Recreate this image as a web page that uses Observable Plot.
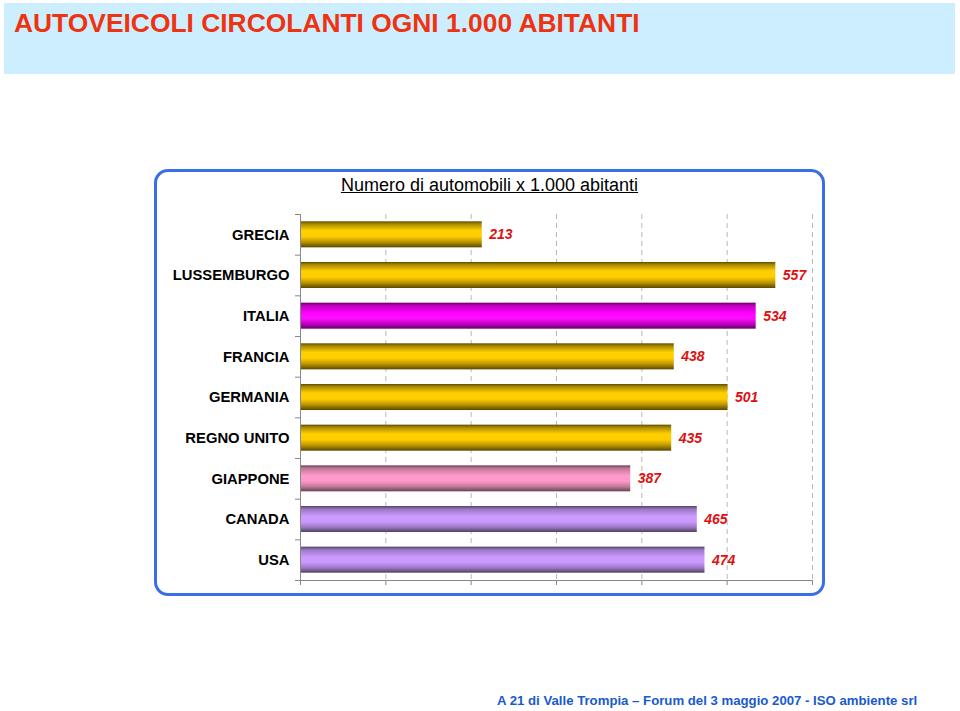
<!DOCTYPE html>
<html>
<head>
<meta charset="utf-8">
<script src="https://cdn.jsdelivr.net/npm/d3@7"></script>
<script src="https://cdn.jsdelivr.net/npm/@observablehq/plot@0.6"></script>
<style>
  body { margin:0; width:960px; height:711px; background:#fff; position:relative; overflow:hidden;
         font-family: Arial, "Liberation Sans", sans-serif; }
  #header { position:absolute; left:4px; top:3px; width:951px; height:71px; background:#cdeeff; }
  #title { position:absolute; left:10px; top:5px; font-size:26.4px; font-weight:bold; color:#ee3311; white-space:nowrap; }
  #frame { position:absolute; left:154px; top:169px; width:665px; height:421px;
           border:3px solid #3a6ee8; border-radius:14px; }
  #subtitle { position:absolute; left:154px; width:671px; top:175px; text-align:center;
              font-size:18px; text-decoration:underline; color:#000; white-space:nowrap; }
  #chart { position:absolute; left:160px; top:205px; }
  #footer { position:absolute; left:497px; top:693px; font-size:13.2px; font-weight:bold; color:#1a5acd; white-space:nowrap; }
</style>
</head>
<body>
<div id="header"><div id="title">AUTOVEICOLI CIRCOLANTI OGNI 1.000 ABITANTI</div></div>
<div id="frame"></div>
<div id="subtitle">Numero di automobili x 1.000 abitanti</div>
<div id="chart"></div>
<div id="footer">A 21 di Valle Trompia – Forum del 3 maggio 2007 - ISO ambiente srl</div>
<script>
const countries = ["GRECIA","LUSSEMBURGO","ITALIA","FRANCIA","GERMANIA","REGNO UNITO","GIAPPONE","CANADA","USA"];
const values = [213, 557, 534, 438, 501, 435, 387, 465, 474];
const barColors = ["gold","gold","magenta","gold","gold","gold","pink","lavender","lavender"];
const xTicks = [0, 100, 200, 300, 400, 500, 600];

const gradients = {
  gold:     [["0%","#5e4c00"],["10%","#a68800"],["35%","#ffd000"],["58%","#ffcc00"],["80%","#b89300"],["100%","#5a4800"]],
  magenta:  [["0%","#6a006a"],["12%","#c000c0"],["40%","#ff00ff"],["60%","#ff10ff"],["82%","#c000c0"],["100%","#660066"]],
  pink:     [["0%","#6a4858"],["12%","#c07898"],["40%","#ff9acb"],["60%","#ff99cc"],["82%","#c07898"],["100%","#664454"]],
  lavender: [["0%","#54426a"],["12%","#9a78c4"],["40%","#cc9aff"],["60%","#cc99ff"],["82%","#9a78c4"],["100%","#50405f"]]
};

const data = countries.map((c, i) => ({country: c, value: values[i], grad: `url(#g-${barColors[i]})`}));

const W = 660, H = 382, mT = 9, mB = 7, mL = 140, mR = 8;
const step = (H - mT - mB) / countries.length;

const plot = Plot.plot({
  width: W, height: H,
  marginTop: mT, marginBottom: mB, marginLeft: mL, marginRight: mR,
  style: {background: "transparent", fontFamily: "Arial, 'Liberation Sans', sans-serif", fontSize: "14px", overflow: "visible"},
  x: {domain: [0, 600], axis: null},
  y: {domain: countries, paddingInner: 0.36, paddingOuter: 0.18, round: false, axis: null},
  color: {type: "identity"},
  marks: [
    Plot.ruleX(xTicks.filter(d => d > 0), {stroke: "#b8b8b8", strokeDasharray: "5,4"}),
    Plot.barX(data, {x: "value", y: "country", fill: "grad"}),
    Plot.text(data, {x: "value", y: "country", text: d => String(d.value), dx: 7, textAnchor: "start",
      fill: "#dd1111", fontWeight: "bold", fontStyle: "italic", fontSize: 14}),
    Plot.ruleX([0], {stroke: "#888"}),
    Plot.ruleY(countries, {y: d => d, x1: 0, x2: 0, insetLeft: -5, dy: -step / 2, stroke: "#888"}),
    Plot.ruleY([countries[countries.length - 1]], {x1: 0, x2: 600, insetLeft: -5, dy: step / 2, stroke: "#888"}),
    Plot.axisX({ticks: xTicks, tickSize: 5, tickFormat: () => "", stroke: "#888", anchor: "bottom", label: null}),
    Plot.axisY({tickSize: 0, tickPadding: 11, fontSize: 14.8, fontWeight: "bold", fill: "#000", label: null})
  ]
});

const defs = d3.create("svg:defs");
for (const [name, stops] of Object.entries(gradients)) {
  const g = defs.append("linearGradient").attr("id", `g-${name}`).attr("x1", 0).attr("y1", 0).attr("x2", 0).attr("y2", 1);
  for (const [o, c] of stops) g.append("stop").attr("offset", o).attr("stop-color", c);
}
plot.insertBefore(defs.node(), plot.firstChild);
document.getElementById("chart").appendChild(plot);
</script>
</body>
</html>
